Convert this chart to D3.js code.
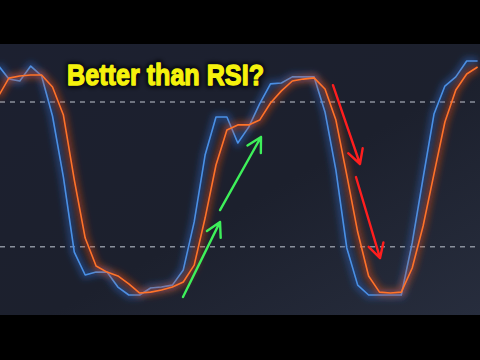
<!DOCTYPE html>
<html><head><meta charset="utf-8">
<script src="https://cdn.jsdelivr.net/npm/d3@7"></script>
<style>html,body{margin:0;padding:0;background:#000;}svg{display:block;}</style>
</head><body>
<svg id="chart" width="480" height="360"></svg>
<script>
// ---- data ----
const fastK = [95.3,89.5,88.7,94.9,90.8,74.2,48.9,17.8,8.3,9.5,9.5,3.3,0,0,2.9,3.3,4.1,10.4,30.3,58.0,73.8,73.8,63.0,69.6,79.2,87.5,87.9,90.4,90.4,90.4,75.9,51.8,19.5,4.1,0,0,0,0,21.6,48.5,75.0,86.6,90.4,97.0,97.0];
const slowD = [82.1,89.9,90.8,91.2,91.2,86.2,74.6,47.7,23.6,12.0,9.5,7.9,4.6,0.8,1.2,2.1,3.3,5.4,12.4,31.9,53.9,68.4,70.5,70.5,72.5,79.6,84.6,88.7,89.5,90.0,85.4,72.5,49.7,26.1,7.9,1.2,0.8,1.2,11.2,28.6,50.2,71.7,85.0,91.6,94.5];
const levels = [80, 20];
const title = "Better than RSI?";
const greenArrows = [[[16.97,-0.8],[20.37,30.3]],[[20.37,35.2],[24.13,65.5]]];
const redArrows = [[[30.73,87.0],[33.21,54.3]],[[32.84,48.9],[35.05,15.3]]];

// ---- layout ----
const W = 480, H = 360, plotTop = 44, plotBottom = 315;
const svg = d3.select("#chart");
const defs = svg.append("defs");

const bg = defs.append("linearGradient").attr("id","bg").attr("x1","0").attr("y1","0").attr("x2","1").attr("y2","1");
bg.append("stop").attr("offset","0%").attr("stop-color","#1c2030");
bg.append("stop").attr("offset","55%").attr("stop-color","#1c202d");
bg.append("stop").attr("offset","100%").attr("stop-color","#272d3d");

defs.append("clipPath").attr("id","clip").append("rect").attr("x",0).attr("y",plotTop).attr("width",W).attr("height",plotBottom-plotTop);

const blur = defs.append("filter").attr("id","blur").attr("filterUnits","userSpaceOnUse")
  .attr("x",-20).attr("y",0).attr("width",W+40).attr("height",H);
blur.append("feGaussianBlur").attr("stdDeviation",3.2);

const tblur = defs.append("filter").attr("id","tblur").attr("filterUnits","userSpaceOnUse")
  .attr("x",0).attr("y",0).attr("width",W).attr("height",H);
tblur.append("feGaussianBlur").attr("stdDeviation",2.2);

svg.append("rect").attr("width",W).attr("height",H).attr("fill","#000");
svg.append("rect").attr("x",0).attr("y",plotTop).attr("width",W).attr("height",plotBottom-plotTop).attr("fill","url(#bg)");

const x = d3.scaleLinear().domain([0, fastK.length-1]).range([-2, 477.6]);
const y = d3.scaleLinear().domain([0, 100]).range([295, 53.75]);

const g = svg.append("g").attr("clip-path","url(#clip)");

// dashed levels
g.selectAll("line.level").data(levels).join("line").attr("class","level")
  .attr("x1",0).attr("x2",W).attr("y1",d=>y(d)).attr("y2",d=>y(d))
  .attr("stroke","#8a909c").attr("stroke-width",1.4).attr("stroke-dasharray","5,5");

const line = d3.line().x((d,i)=>x(i)).y(d=>y(d));

function drawSeries(data, color, glow){
  g.append("path").datum(data).attr("d",line).attr("fill","none")
    .attr("stroke",glow).attr("stroke-width",8).attr("stroke-opacity",0.45)
    .attr("stroke-linejoin","round").attr("filter","url(#blur)");
  g.append("path").datum(data).attr("d",line).attr("fill","none")
    .attr("stroke",color).attr("stroke-width",1.6).attr("stroke-linejoin","round");
}
drawSeries(fastK, "#4a90e6", "#2d64c0");
drawSeries(slowD, "#ff7329", "#e04a10");

// arrows
function drawArrow(a, color){
  const x1=x(a[0][0]), y1=y(a[0][1]), x2=x(a[1][0]), y2=y(a[1][1]);
  const ang = Math.atan2(y2-y1, x2-x1), L = 16, sp = 0.5;
  const p = d3.path();
  p.moveTo(x1,y1); p.lineTo(x2,y2);
  p.moveTo(x2 - L*Math.cos(ang-sp), y2 - L*Math.sin(ang-sp));
  p.lineTo(x2,y2);
  p.lineTo(x2 - L*Math.cos(ang+sp), y2 - L*Math.sin(ang+sp));
  g.append("path").attr("d",p.toString()).attr("fill","none").attr("stroke",color)
    .attr("stroke-width",2.4).attr("stroke-linecap","round").attr("stroke-linejoin","round");
}
greenArrows.forEach(a=>drawArrow(a,"#3ef05a"));
redArrows.forEach(a=>drawArrow(a,"#ff1e1e"));

// title: dark halo then heavy yellow text
function titleText(){
  return svg.append("text").attr("x",67).attr("y",85).text(title)
    .attr("font-family","'Liberation Sans', Arial, sans-serif").attr("font-weight","bold")
    .attr("font-size",30).attr("textLength",197).attr("lengthAdjust","spacingAndGlyphs");
}
titleText().attr("fill","#05060a").attr("stroke","#05060a").attr("stroke-width",5)
  .attr("stroke-linejoin","round").attr("filter","url(#tblur)").attr("opacity",0.9);
titleText().attr("fill","#f5f20c").attr("stroke","#f5f20c").attr("stroke-width",1.3)
  .attr("stroke-linejoin","round");
</script>
</body></html>
